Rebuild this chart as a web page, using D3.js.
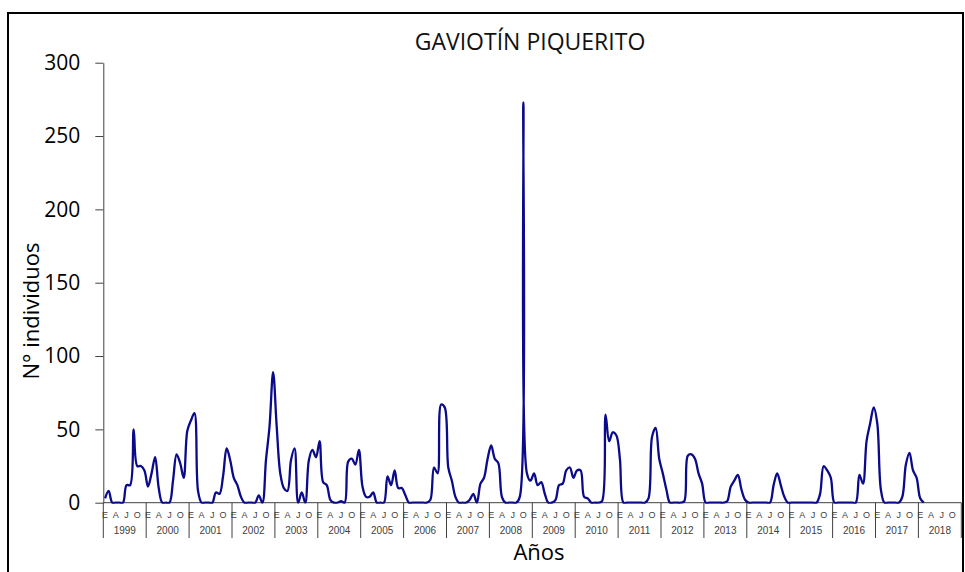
<!DOCTYPE html>
<meta charset="utf-8">
<title>GAVIOTÍN PIQUERITO</title>
<style>
body { margin: 0; background: #fff; }
svg { display: block; }
.line { fill: none; stroke: #0a0a8a; stroke-width: 2.3px; }
.axis text { font-family: "Open Sans", sans-serif; }
</style>
<svg width="965" height="572"></svg>
<script src="https://cdnjs.cloudflare.com/ajax/libs/d3/7.8.5/d3.min.js"></script>
<script>

// years shown on the axis
var years = [1999, 2000, 2001, 2002, 2003, 2004, 2005, 2006, 2007, 2008,
             2009, 2010, 2011, 2012, 2013, 2014, 2015, 2016, 2017, 2018];

// month letters printed under the axis (Enero, Abril, Julio, Octubre)
var monthLetters = ["E", "A", "J", "O"];
var monthLetterIdx = [0, 3, 6, 9];

var yTicks = [0, 50, 100, 150, 200, 250, 300];

// monthly counts, Jan 1999 .. Feb 2018
var counts = [
  3, 8, 0, 0, 0, 0, 12, 12, 50, 25, 25, 22,      // 1999
  11, 20, 31, 10, 0, 0, 0, 15, 33, 27, 17, 49,   // 2000
  56, 61, 8, 0, 0, 0, 0, 7, 6, 18, 37, 29,       // 2001
  17, 12, 4, 0, 0, 0, 0, 5, 0, 29, 52, 89,       // 2002
  52, 20, 10, 8, 29, 37, 0, 7, 0, 29, 36, 31,    // 2003
  42, 14, 12, 2, 0, 0, 1, 0, 28, 30, 26, 36,     // 2004
  11, 4, 4, 7, 0, 0, 0, 18, 12, 22, 10, 10,      // 2005
  5, 0, 0, 0, 0, 0, 0, 2, 24, 20, 67, 65,        // 2006
  24, 15, 4, 0, 0, 0, 2, 6, 0, 13, 17, 30,       // 2007
  39, 30, 27, 4, 0, 0, 0, 0, 4, 273, 20, 15,     // 2008
  20, 12, 14, 6, 0, 0, 2, 12, 13, 22, 24, 17,    // 2009
  22, 22, 4, 3, 0, 0, 0, 1, 60, 42, 48, 46,      // 2010
  30, 0, 0, 0, 0, 0, 0, 0, 3, 45, 51, 30,        // 2011
  20, 9, 0, 0, 0, 0, 1, 32, 33, 30, 20, 13,      // 2012
  0, 0, 0, 0, 0, 0, 1, 11, 15, 19, 9, 2,         // 2013
  0, 0, 0, 0, 0, 0, 0, 12, 20, 12, 4, 0,         // 2014
  0, 0, 0, 0, 0, 0, 0, 0, 6, 25, 22, 17,         // 2015
  0, 0, 0, 0, 0, 0, 0, 19, 13, 42, 54, 65,       // 2016
  54, 9, 0, 0, 0, 0, 0, 4, 26, 34, 22, 17,       // 2017
  3, 0                                           // 2018
];

var svg = d3.select("svg");

var plotLeft = 103.3, plotRight = 961.3, plotTop = 62.7, plotBottom = 502.7;

var x = d3.scaleLinear()
    .domain([0, years.length * 12])
    .range([plotLeft, plotRight]);

var xYear = d3.scaleBand()
    .domain(years)
    .range([plotLeft, plotRight]);

var y = d3.scaleLinear()
    .domain([0, 300])
    .range([plotBottom, plotTop]);

// outer frame
svg.append("rect")
    .attr("x", 8)
    .attr("y", 13)
    .attr("width", 955)
    .attr("height", 600)
    .attr("fill", "none")
    .attr("stroke", "#000")
    .attr("stroke-width", 2);

// title
svg.append("text")
    .attr("x", 530)
    .attr("y", 50)
    .attr("text-anchor", "middle")
    .style("font-family", "Open Sans, sans-serif")
    .style("font-size", "23px")
    .style("fill", "#111")
    .text("GAVIOTÍN PIQUERITO");

// y axis
var yAxis = svg.append("g")
    .attr("class", "axis")
    .attr("transform", "translate(" + plotLeft + ",0)")
    .call(d3.axisLeft(y).tickValues(yTicks).tickSize(8).tickSizeOuter(0).tickPadding(15));

yAxis.selectAll("text")
    .style("font-size", "21px")
    .style("fill", "#000");
yAxis.selectAll("line, path").attr("stroke", "#404040");

svg.append("text")
    .attr("transform", "translate(39,311) rotate(-90)")
    .attr("text-anchor", "middle")
    .style("font-family", "Open Sans, sans-serif")
    .style("font-size", "22px")
    .text("N° individuos");

// x baseline
svg.append("line")
    .attr("x1", plotLeft).attr("x2", plotRight)
    .attr("y1", plotBottom).attr("y2", plotBottom)
    .attr("stroke", "#404040");

// year separators
svg.append("g").selectAll("line")
    .data(years.concat(["end"]))
    .join("line")
      .attr("x1", function(d) { return d === "end" ? plotRight : xYear(d); })
      .attr("x2", function(d) { return d === "end" ? plotRight : xYear(d); })
      .attr("y1", plotBottom)
      .attr("y2", 538)
      .attr("stroke", "#404040");

// month letters
var monthCells = [];
years.forEach(function(yr, yi) {
  monthLetterIdx.forEach(function(m, k) {
    monthCells.push({ i: yi * 12 + m, label: monthLetters[k] });
  });
});

svg.append("g").selectAll("text")
    .data(monthCells)
    .join("text")
      .attr("x", function(d) { return x(d.i + 0.5); })
      .attr("y", 518)
      .attr("text-anchor", "middle")
      .style("font-family", "Liberation Sans, Arial, sans-serif")
      .style("font-size", "9px")
      .style("fill", "#404040")
      .text(function(d) { return d.label; });

// year labels
svg.append("g").selectAll("text")
    .data(years)
    .join("text")
      .attr("x", function(d) { return xYear(d) + xYear.bandwidth() / 2; })
      .attr("y", 534)
      .attr("text-anchor", "middle")
      .style("font-family", "Liberation Sans, Arial, sans-serif")
      .style("font-size", "10px")
      .style("fill", "#404040")
      .text(function(d) { return d; });

svg.append("text")
    .attr("x", 539)
    .attr("y", 560)
    .attr("text-anchor", "middle")
    .style("font-family", "Open Sans, sans-serif")
    .style("font-size", "22px")
    .text("Años");

// clip like the plot area
svg.append("clipPath")
    .attr("id", "plot")
  .append("rect")
    .attr("x", plotLeft)
    .attr("y", plotTop - 5)
    .attr("width", plotRight - plotLeft)
    .attr("height", plotBottom - plotTop + 6);

var line = d3.line()
    .x(function(d, i) { return x(i + 0.5); })
    .y(function(d) { return y(d); })
    .curve(d3.curveCatmullRom.alpha(0.5));

svg.append("path")
    .datum(counts)
    .attr("class", "line")
    .attr("clip-path", "url(#plot)")
    .attr("d", line);

</script>
